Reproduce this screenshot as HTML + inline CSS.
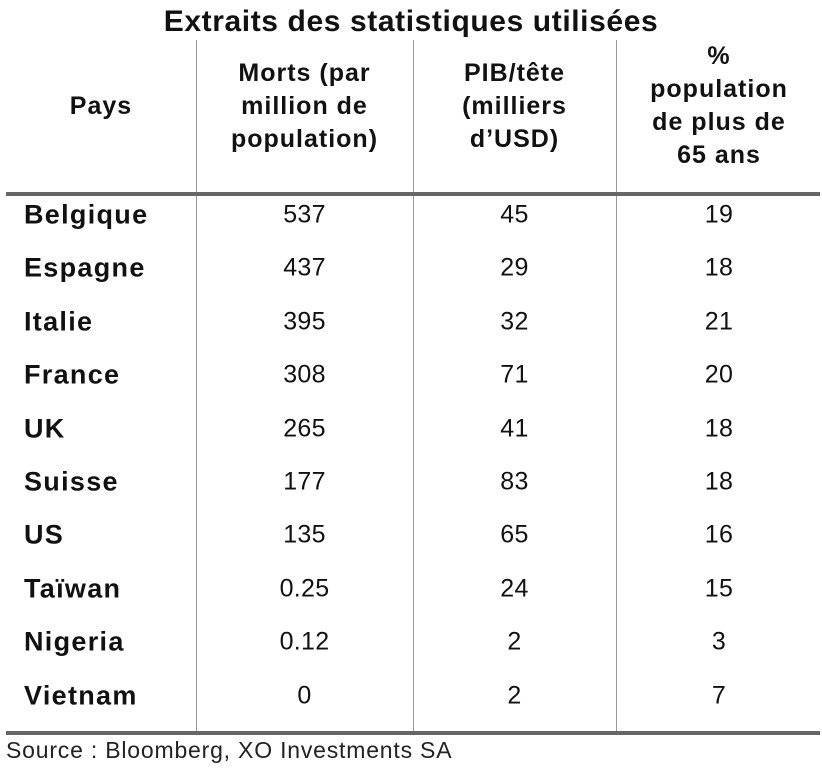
<!DOCTYPE html>
<html><head><meta charset="utf-8"><style>
body{margin:0;width:822px;height:775px;background:#fff;position:relative;overflow:hidden;font-family:"Liberation Sans",sans-serif;color:#111}
.a{position:absolute}
.t{left:0;width:822px;top:5px;text-align:center;font-size:30px;font-weight:bold;letter-spacing:0.6px}
.h{font-weight:bold;font-size:25px;line-height:33px;text-align:center;letter-spacing:1px}
.c{font-size:25px;text-align:center;transform:translateY(-50%);letter-spacing:0.3px}
.n{font-size:27px;font-weight:bold;left:24px;transform:translateY(-50%);letter-spacing:1.3px}
.v{width:1px;background:#999;top:40px;height:693px}
.hl{left:6px;width:814px;height:4px;background:#666}
</style></head><body>
<div class="a t">Extraits des statistiques utilisées</div>
<div class="a v" style="left:196px"></div>
<div class="a v" style="left:413px"></div>
<div class="a v" style="left:616px"></div>
<div class="a h" style="left:0;width:202px;top:90px">Pays</div>
<div class="a h" style="left:196px;width:217px;top:57px">Morts (par<br>million de<br>population)</div>
<div class="a h" style="left:413px;width:203px;top:57px">PIB/tête<br>(milliers<br>d’USD)</div>
<div class="a h" style="left:616px;width:206px;top:40px">%<br>population<br>de plus de<br>65 ans</div>
<div class="a hl" style="top:192px"></div>
<div class="a hl" style="top:731px"></div>
<div id="rows"></div>
<div class="a" style="left:6px;top:737px;font-size:23px;color:#222;letter-spacing:0.8px">Source : Bloomberg, XO Investments SA</div>
<script>
const countries=["Belgique","Espagne","Italie","France","UK","Suisse","US","Taïwan","Nigeria","Vietnam"];
const deaths=["537","437","395","308","265","177","135","0.25","0.12","0"];
const gdp=["45","29","32","71","41","83","65","24","2","2"];
const over65=["19","18","21","20","18","18","16","15","3","7"];
const root=document.getElementById('rows');
countries.forEach((c,i)=>{
  const y=215+i*53.4;
  const n=document.createElement('div');n.className='a n';n.style.top=y+'px';n.textContent=c;
  
  
  root.appendChild(n);
  [[deaths,196,217,'deaths'],[gdp,413,203,'gdp'],[over65,616,206,'over65']].forEach(([arr,l,w,k])=>{
    const d=document.createElement('div');d.className='a c';d.style.left=l+'px';d.style.width=w+'px';d.style.top=y+'px';d.textContent=arr[i];
    
    
    root.appendChild(d);
  });
});
</script>
</body></html>
